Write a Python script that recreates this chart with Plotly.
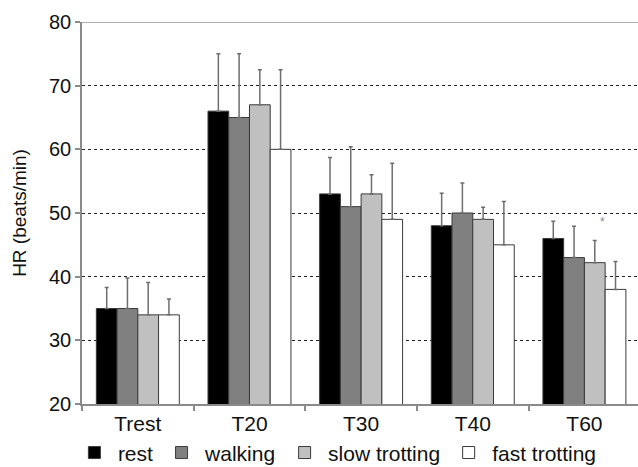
import plotly.graph_objects as go

categories = ["Trest", "T20", "T30", "T40", "T60"]
series_names = ["rest", "walking", "slow trotting", "fast trotting"]

rest = [35, 66, 53, 48, 46]
walking = [35, 65, 51, 50, 43]
slow_trotting = [34, 67, 53, 49, 42.2]
fast_trotting = [34, 60, 49, 45, 38]

rest_sd = [3.3, 9.0, 5.7, 5.1, 2.7]
walking_sd = [4.8, 10.0, 9.4, 4.7, 4.9]
slow_trotting_sd = [5.1, 5.5, 3.0, 1.9, 3.5]
fast_trotting_sd = [2.5, 12.5, 8.8, 6.8, 4.4]

significance_slow = ["", "", "", "", "*"]

values = [rest, walking, slow_trotting, fast_trotting]
sds = [rest_sd, walking_sd, slow_trotting_sd, fast_trotting_sd]
colors = ["#000000", "#808080", "#c0c0c0", "#ffffff"]

FONT = "Liberation Sans, Arial, Helvetica, sans-serif"

fig = go.Figure()
for name, v, sd, c in zip(series_names, values, sds, colors):
    fig.add_trace(go.Bar(
        x=categories, y=v, name=name,
        marker=dict(color=c, line=dict(color="#3a3a3a", width=1)),
        error_y=dict(type="data", array=sd, arrayminus=[0] * len(sd), symmetric=False,
                     color="#6e6e6e", thickness=1.5, width=2),
    ))

# significance marker above slow trotting bar
for cat, mark, v, sd in zip(categories, significance_slow, slow_trotting, slow_trotting_sd):
    if mark:
        fig.add_annotation(x=cat, y=v + sd, text=mark, showarrow=False,
                           xshift=18, yshift=18,
                           font=dict(family=FONT, size=12, color="#8a8a8a"))

# top frame line
fig.add_shape(type="line", xref="paper", yref="y", x0=0, x1=1, y0=80, y1=80,
              line=dict(color="#9a9a9a", width=1.5))

fig.update_layout(
    width=638, height=467,
    margin=dict(l=82, r=0, t=22, b=63, autoexpand=False),
    paper_bgcolor="white", plot_bgcolor="white",
    barmode="group", bargap=0.257, bargroupgap=0,
    font=dict(family=FONT, size=20, color="#111111"),
    showlegend=True,
    legend=dict(orientation="h", x=-0.02, xanchor="left", y=-0.128, yanchor="middle",
                itemwidth=37,
                font=dict(family=FONT, size=21, color="#111111"),
                itemclick=False, traceorder="normal"),
    xaxis=dict(type="category", range=[-0.5, 4.48], showline=True, linecolor="#8a8a8a",
               linewidth=1.5, ticks="outside", tickson="boundaries", ticklen=5,
               tickcolor="#8a8a8a", tickwidth=1.5, showgrid=False,
               tickfont=dict(family=FONT, size=21, color="#111111")),
    yaxis=dict(range=[20, 80], tickvals=[20, 30, 40, 50, 60, 70, 80], showline=True,
               linecolor="#8a8a8a", linewidth=1.5, ticks="outside", ticklen=5,
               tickcolor="#8a8a8a", tickwidth=1.5,
               showgrid=True, gridcolor="#222222", griddash="dot", gridwidth=1,
               zeroline=False,
               tickfont=dict(family=FONT, size=20, color="#111111"),
               title=dict(text="HR (beats/min)", standoff=17,
                          font=dict(family=FONT, size=19, color="#111111"))),
)

fig.write_html("out.html", config={"displayModeBar": False},
               post_script="document.body.style.margin='0px';")
